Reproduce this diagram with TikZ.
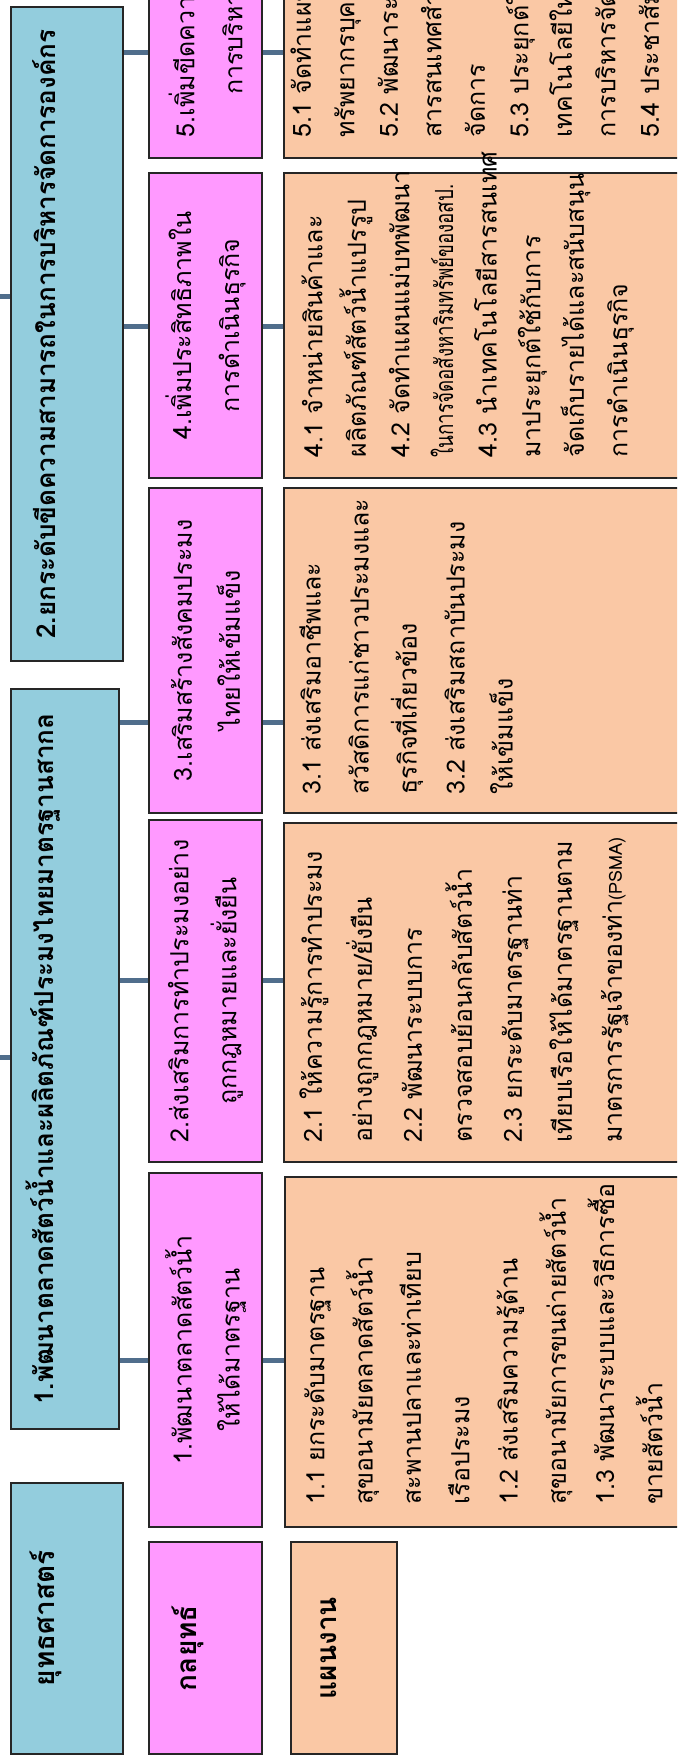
\documentclass[tikz,border=0pt]{standalone}
\usepackage{fontspec}
\newfontfamily\thaifont[Script=Thai]{Loma}
\definecolor{stratblue}{RGB}{147,205,221}
\definecolor{tacpink}{RGB}{255,153,255}
\definecolor{planpeach}{RGB}{250,200,165}
\definecolor{linkblue}{RGB}{80,110,140}

\begin{document}
\begin{tikzpicture}[x=0.5pt,y=-0.5pt,
  box/.style={draw=black!85,line width=1.1pt,rotate=90,inner sep=0pt},
  lifted/.style={text height=0pt,text depth=#1},
  strat/.style={box,fill=stratblue,minimum height=56pt,lifted=11.6pt,
    font=\thaifont\bfseries\fontsize{13.05}{16}\selectfont},
  tactic/.style={box,fill=tacpink,minimum height=56.5pt,align=center,
    font=\thaifont\fontsize{12.5}{24}\selectfont},
  plan/.style={box,fill=planpeach,minimum height=218pt},
  head/.style={font=\thaifont\bfseries\fontsize{14}{17}\selectfont},
  plantext/.style={rotate=90,anchor=north west,inner sep=0pt,align=left,
    font=\thaifont\fontsize{12.5}{#1}\selectfont},
  link/.style={draw=linkblue,line width=2.5pt}]
\useasboundingbox (0,0) rectangle (677,1764);
\clip (0,0) rectangle (677,1764);

% strategies
\node[strat,head,lifted=13pt,minimum width=135.5pt] (s0) at (67,1618.5) {ยุทธศาสตร์};
\node[strat,minimum width=370pt,minimum height=54pt] (s1) at (65,1059) {1.พัฒนาตลาดสัตว์น้ำและผลิตภัณฑ์ประมงไทยมาตรฐานสากล};
\node[strat,minimum width=327pt] (s2) at (67,334) {2.ยกระดับขีดความสามารถในการบริหารจัดการองค์กร};

% tactics
\node[tactic,head,lifted=8.6pt,minimum width=106pt] (t0) at (205.5,1648) {กลยุทธ์};
\node[tactic,minimum width=177pt] (t1) at (205.5,1350) {1.พัฒนาตลาดสัตว์น้ำ\\ให้ได้มาตรฐาน};
\node[tactic,minimum width=171pt] (t2) at (205.5,991) {2.ส่งเสริมการทำประมงอย่าง\\ถูกกฎหมายและยั่งยืน};
\node[tactic,minimum width=162.5pt] (t3) at (205.5,650.5) {3.เสริมสร้างสังคมประมง\\ไทยให้เข้มแข็ง};
\node[tactic,minimum width=152.5pt] (t4) at (205.5,325.5) {4.เพิ่มประสิทธิภาพใน\\การดำเนินธุรกิจ};
\node[tactic,minimum width=158pt] (t5) at (205.5,0) {5.เพิ่มขีดความสามารถใน\\การบริหารจัดการ};

% plans
\node[plan,head,lifted=7.6pt,minimum width=106pt,minimum height=53pt] (p0) at (344,1648) {แผนงาน};
\node[plan,minimum width=175pt] (p1) at (503,1352) {};
\node[plan,minimum width=169.5pt] (p2) at (502,992.5) {};
\node[plan,minimum width=162.5pt] (p3) at (502,650.5) {};
\node[plan,minimum width=152.5pt] (p4) at (502,325.5) {};
\node[plan,minimum width=158pt] (p5) at (502,0) {};

\node[plantext=24.15pt] (p1text) at (304,1505) {1.1 ยกระดับมาตรฐาน\\สุขอนามัยตลาดสัตว์น้ำ\\สะพานปลาและท่าเทียบ\\เรือประมง\\1.2 ส่งเสริมความรู้ด้าน\\สุขอนามัยการขนถ่ายสัตว์น้ำ\\1.3 พัฒนาระบบและวิธีการซื้อ\\ขายสัตว์น้ำ};
\node[plantext=25pt] (p2text) at (299,1143) {2.1 ให้ความรู้การทำประมง\\อย่างถูกกฎหมาย/ยั่งยืน\\2.2 พัฒนาระบบการ\\ตรวจสอบย้อนกลับสัตว์น้ำ\\2.3 ยกระดับมาตรฐานท่า\\เทียบเรือให้ได้มาตรฐานตาม\\มาตรการรัฐเจ้าของท่า{\fontsize{9}{10}\selectfont(PSMA)}};
\node[plantext=24pt] (p3text) at (299,795) {3.1 ส่งเสริมอาชีพและ\\สวัสดิการแก่ชาวประมงและ\\ธุรกิจที่เกี่ยวข้อง\\3.2 ส่งเสริมสถาบันประมง\\ให้เข้มแข็ง};
\node[plantext=21.8pt] (p4text) at (301,458) {4.1 จำหน่ายสินค้าและ\\ผลิตภัณฑ์สัตว์น้ำแปรรูป\\4.2 จัดทำแผนแม่บทพัฒนา\\\scalebox{0.75}[1]{ในการจัดอสังหาริมทรัพย์ของอสป.}\\4.3 นำเทคโนโลยีสารสนเทศ\\มาประยุกต์ใช้กับการ\\จัดเก็บรายได้และสนับสนุน\\การดำเนินธุรกิจ};
\node[plantext=21.75pt] (p5text) at (290,138) {5.1 จัดทำแผนพัฒนา\\ทรัพยากรบุคคล\\5.2 พัฒนาระบบเทคโนโลยี\\สารสนเทศสำหรับการบริหาร\\จัดการ\\5.3 ประยุกต์ใช้นวัตกรรม\\เทคโนโลยีใหม่ในการ\\การบริหารจัดการ\\5.4 ประชาสัมพันธ์องค์กร};

% links
\coordinate (r1) at (-5,1057);
\coordinate (r2) at (-5,297);
\coordinate (k1) at (0,1360);
\coordinate (k2) at (0,980);
\coordinate (k3) at (0,722);
\coordinate (k4) at (0,327);
\coordinate (k5) at (0,53);
\draw[link] (r1) -- (s1.north |- r1);
\draw[link] (r2) -- (s2.north |- r2);
\draw[link] (s1.south |- k1) -- (t1.north |- k1) (t1.south |- k1) -- (p1.north |- k1);
\draw[link] (s1.south |- k2) -- (t2.north |- k2) (t2.south |- k2) -- (p2.north |- k2);
\draw[link] (s1.south |- k3) -- (t3.north |- k3) (t3.south |- k3) -- (p3.north |- k3);
\draw[link] (s2.south |- k4) -- (t4.north |- k4) (t4.south |- k4) -- (p4.north |- k4);
\draw[link] (s2.south |- k5) -- (t5.north |- k5) (t5.south |- k5) -- (p5.north |- k5);
\end{tikzpicture}
\end{document}
